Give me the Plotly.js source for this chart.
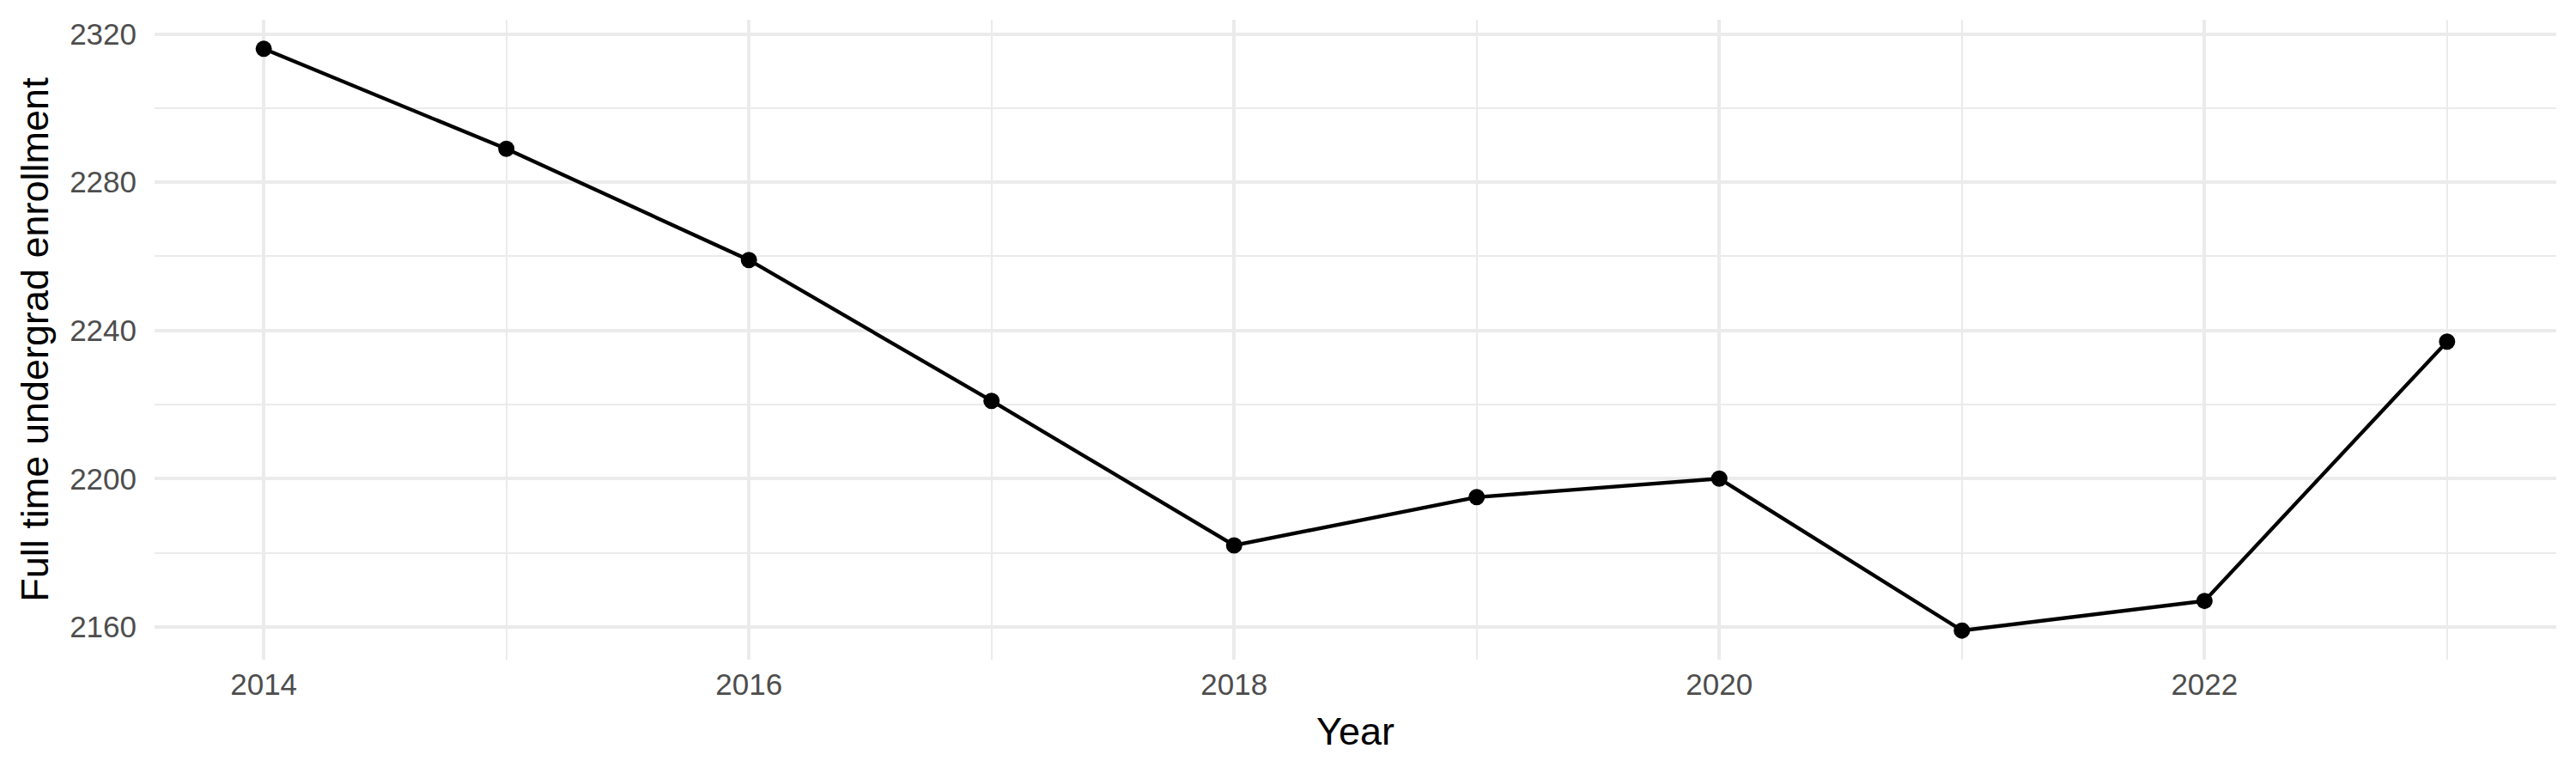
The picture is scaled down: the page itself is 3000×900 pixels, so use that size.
<!DOCTYPE html>
<html>
<head>
<meta charset="utf-8">
<script src="https://cdn.plot.ly/plotly-3.0.1.min.js"></script>
<style>
  html, body { margin: 0; padding: 0; background: #fff; }
  #chart { width: 3000px; height: 900px; }
</style>
</head>
<body>
<div id="chart"></div>
<script>
// enrollment by year
const years = [2014, 2015, 2016, 2017, 2018, 2019, 2020, 2021, 2022, 2023];
const enrollment = [2316, 2289, 2259, 2221, 2182, 2195, 2200, 2159, 2167, 2237];

const xTitle = 'Year';
const yTitle = 'Full time undergrad enrollment';

// ggplot-style 5% padding around the data
const xPad = (Math.max(...years) - Math.min(...years)) * 0.05;
const yPad = (Math.max(...enrollment) - Math.min(...enrollment)) * 0.05;

const grid = '#EBEBEB';
const tickFont = { family: 'Liberation Sans, Arial, sans-serif', size: 35, color: '#4D4D4D' };
const titleFont = { family: 'Liberation Sans, Arial, sans-serif', size: 45, color: '#000000' };

const trace = [{
    x: years,
    y: enrollment,
    type: 'scatter',
    mode: 'lines+markers',
    line: { color: '#000000', width: 4.3 },
    marker: { color: '#000000', size: 19 },
    hoverinfo: 'x+y'
}];

Plotly.newPlot('chart', trace, {
    width: 3000,
    height: 900,
    margin: { l: 180, r: 23, t: 23, b: 132, pad: 0 },
    paper_bgcolor: '#ffffff',
    plot_bgcolor: '#ffffff',
    showlegend: false,
    xaxis: {
        range: [Math.min(...years) - xPad, Math.max(...years) + xPad],
        tickmode: 'linear', tick0: 2014, dtick: 2,
        showgrid: true, gridcolor: grid, gridwidth: 4.3,
        minor: { dtick: 1, tick0: 2014, showgrid: true, gridcolor: grid, gridwidth: 2.1 },
        zeroline: false, showline: false, ticks: '',
        ticklabelstandoff: 5,
        tickfont: tickFont,
        title: { text: xTitle, font: titleFont, standoff: 20 }
    },
    yaxis: {
        range: [Math.min(...enrollment) - yPad, Math.max(...enrollment) + yPad],
        tickmode: 'linear', tick0: 2160, dtick: 40,
        showgrid: true, gridcolor: grid, gridwidth: 4.3,
        minor: { dtick: 20, tick0: 2160, showgrid: true, gridcolor: grid, gridwidth: 2.1 },
        zeroline: false, showline: false, ticks: '',
        ticklabelstandoff: 20,
        tickfont: tickFont,
        title: { text: yTitle, font: titleFont, standoff: 10 }
    }
}, { displayModeBar: false, responsive: false });
</script>
</body>
</html>
